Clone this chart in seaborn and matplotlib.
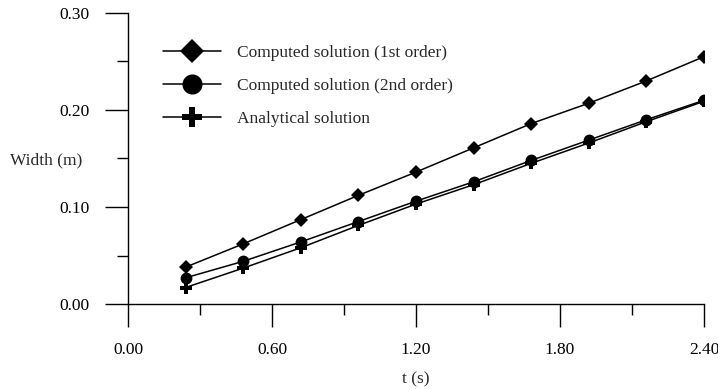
import numpy as np
import pandas as pd
import matplotlib
matplotlib.use("Agg")
import matplotlib.pyplot as plt
import seaborn as sns
from matplotlib.ticker import MultipleLocator, FormatStrFormatter

# ---- data ----
t_values = [0.24, 0.48, 0.72, 0.96, 1.20, 1.44, 1.68, 1.92, 2.16, 2.40]
first_order = [0.038, 0.062, 0.087, 0.112, 0.136, 0.161, 0.186, 0.207, 0.230, 0.255]
second_order = [0.027, 0.044, 0.064, 0.085, 0.106, 0.126, 0.148, 0.169, 0.190, 0.210]
analytical = [0.017, 0.037, 0.058, 0.081, 0.103, 0.123, 0.145, 0.166, 0.188, 0.209]
series_names = ["Computed solution (1st order)",
                "Computed solution (2nd order)",
                "Analytical solution"]
x_ticks = [0.00, 0.60, 1.20, 1.80, 2.40]
y_ticks = [0.00, 0.10, 0.20, 0.30]

sns.set_style("ticks")
plt.rcParams['font.family'] = ['Liberation Serif', 'DejaVu Serif']

fig = plt.figure(figsize=(7.18, 3.89), dpi=100)
ax = fig.add_axes([128/718, 1 - 304/389, 576/718, 291/389])

series = [first_order, second_order, analytical]
markers = ["D", "o", "P"]
msizes = [7.0, 8.5, 8.5]
for name, vals, mk, ms in zip(series_names, series, markers, msizes):
    df = pd.DataFrame({"t": t_values, "w": vals})
    sns.lineplot(data=df, x="t", y="w", ax=ax, color="black", linewidth=1.1,
                 marker=mk, markersize=ms, markeredgewidth=0,
                 markerfacecolor="black", label=name)

ax.set_xlim(0, 2.4)
ax.set_ylim(0, 0.30)
ax.set_xticks(x_ticks)
ax.set_yticks(y_ticks)
ax.xaxis.set_minor_locator(MultipleLocator(0.30))
ax.yaxis.set_minor_locator(MultipleLocator(0.05))
ax.xaxis.set_major_formatter(FormatStrFormatter("%.2f"))
ax.yaxis.set_major_formatter(FormatStrFormatter("%.2f"))
ax.tick_params(which="major", direction="out", length=16.5, width=1.0,
               labelsize=12.5, pad=11, color="black", labelcolor="black")
ax.tick_params(which="minor", direction="out", length=8, width=1.0, color="black")

sns.despine(ax=ax, top=True, right=True)
for s in ["left", "bottom"]:
    ax.spines[s].set_linewidth(1.0)
    ax.spines[s].set_color("black")

ax.set_xlabel("t (s)", fontsize=12.5, va="center")
ax.set_ylabel("Width (m)", fontsize=12.5, rotation=0, ha="right", va="center")
ax.xaxis.set_label_coords(0.5, -0.258)
ax.yaxis.set_label_coords(-0.080, 0.495)

leg = ax.legend(loc="upper left", bbox_to_anchor=(163/718, 1 - 45/389),
                bbox_transform=fig.transFigure, frameon=False, fontsize=12.5,
                handlelength=3.36, handletextpad=0.92, labelspacing=0.97,
                borderpad=0, borderaxespad=0, markerscale=1.7)

fig.savefig("out.png", dpi=100)
